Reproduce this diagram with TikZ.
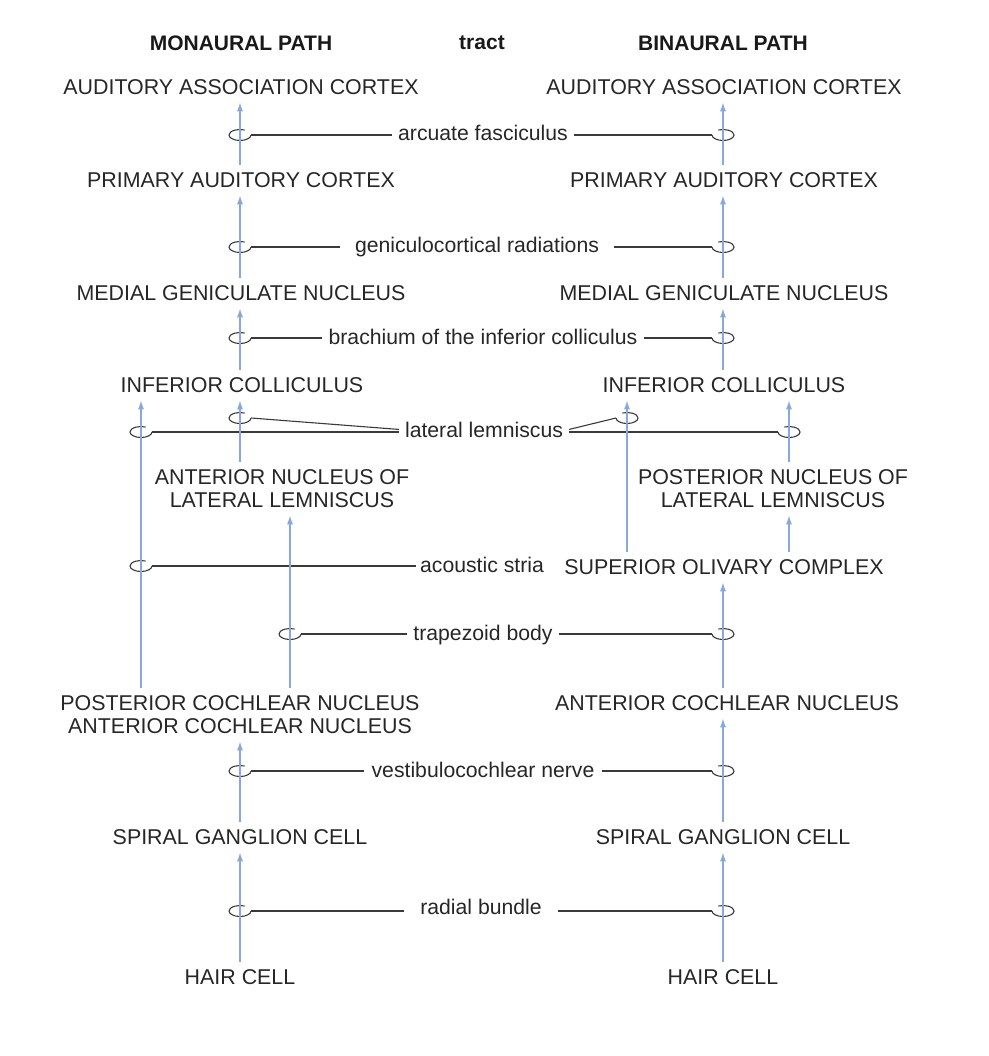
\documentclass[tikz,border=0pt]{standalone}
\usepackage{fontspec}
\setmainfont{Liberation Sans}
\usetikzlibrary{arrows.meta}
\definecolor{bl}{HTML}{86A8DC}
\definecolor{dk}{HTML}{3A3A3A}
\newcommand\arcL[1]{\draw[cn] ([xshift=11pt]#1) arc[start angle=0,end angle=295,x radius=11,y radius=5.5];}
\newcommand\arcR[1]{\draw[cn] ([xshift=-11pt]#1) arc[start angle=180,end angle=-115,x radius=11,y radius=5.5];}
\begin{document}
\begin{tikzpicture}[x=1pt,y=-1pt,
 nd/.style={inner xsep=2pt, inner ysep=7.5pt, font=\fontsize{21.4}{23}\selectfont, align=center, text=black!85},
 hd/.style={font=\bfseries\fontsize{21}{22}\selectfont, inner sep=0pt, text=black!90},
 lb/.style={anchor=base, inner xsep=6pt, inner ysep=0pt, font=\fontsize{21.2}{22}\selectfont, text=black!85},
 arr/.style={draw=bl, line width=1.4pt, -{Latex[length=9pt,width=6pt]}},
 cn/.style={draw=dk, line width=1.1pt},
]
\useasboundingbox (0,0) rectangle (988,1056);
% headers
\node[hd] (hM) at (241,43) {MONAURAL PATH};
\node[hd] (hT) at (482,43) {tract};
\node[hd] (hB) at (723,43) {BINAURAL PATH};
% columns
\coordinate (xL) at (240,0);
\coordinate (xR) at (723,0);
\coordinate (xa) at (141,0);
\coordinate (xb) at (290,0);
\coordinate (xc) at (627,0);
\coordinate (xd) at (789,0);
% left nodes
\node[nd] (aacL) at (241,87) {AUDITORY ASSOCIATION CORTEX};
\node[nd] (pacL) at (241,180) {PRIMARY AUDITORY CORTEX};
\node[nd] (mgL) at (241,293) {MEDIAL GENICULATE NUCLEUS};
\node[nd] (icL) at (242,385) {INFERIOR COLLICULUS};
\node[nd] (anL) at (282,488.5) {ANTERIOR NUCLEUS OF\\LATERAL LEMNISCUS};
\node[nd] (cnL) at (240,714.5) {POSTERIOR COCHLEAR NUCLEUS\\ANTERIOR COCHLEAR NUCLEUS};
\node[nd] (sgL) at (240,837) {SPIRAL GANGLION CELL};
\node[nd] (hcL) at (240,977) {HAIR CELL};
% right nodes
\node[nd] (aacR) at (724,87) {AUDITORY ASSOCIATION CORTEX};
\node[nd] (pacR) at (724,180) {PRIMARY AUDITORY CORTEX};
\node[nd] (mgR) at (724,293) {MEDIAL GENICULATE NUCLEUS};
\node[nd] (icR) at (724,385) {INFERIOR COLLICULUS};
\node[nd] (pnR) at (773,488.5) {POSTERIOR NUCLEUS OF\\LATERAL LEMNISCUS};
\node[nd] (socR) at (724,567) {SUPERIOR OLIVARY COMPLEX};
\node[nd] (acnR) at (727,703) {ANTERIOR COCHLEAR NUCLEUS};
\node[nd] (sgR) at (723,837) {SPIRAL GANGLION CELL};
\node[nd] (hcR) at (723,977) {HAIR CELL};
% labels
\node[lb] (af) at (483,141) {arcuate fasciculus};
\node[lb, inner xsep=15pt] (gr) at (477,253) {geniculocortical radiations};
\node[lb] (br) at (483,344) {brachium of the inferior colliculus};
\node[lb] (ll) at (484,437) {lateral lemniscus};
\node[lb, inner xsep=4pt] (as) at (482,572) {acoustic stria};
\node[lb] (tb) at (483,640) {trapezoid body};
\node[lb, inner xsep=7pt] (vn) at (483,777) {vestibulocochlear nerve};
\node[lb, inner xsep=16pt] (rb) at (481,914) {radial bundle};
% loop points
\coordinate (afL) at (240,135); \coordinate (afR) at (723,135);
\coordinate (grL) at (240,247); \coordinate (grR) at (723,247);
\coordinate (brL) at (240,338); \coordinate (brR) at (723,338);
\coordinate (llA) at (141,432); \coordinate (llB) at (240,418);
\coordinate (llC) at (627,418); \coordinate (llD) at (789,432);
\coordinate (asL) at (141,566);
\coordinate (tbL) at (290,634); \coordinate (tbR) at (723,634);
\coordinate (vnL) at (240,771); \coordinate (vnR) at (723,771);
\coordinate (rbL) at (240,911); \coordinate (rbR) at (723,911);
% connectors with loops
\foreach \lab/\p/\q in {af/afL/afR, gr/grL/grR, br/brL/brR, tb/tbL/tbR, vn/vnL/vnR, rb/rbL/rbR}{
  \arcL{\p} \arcR{\q}
  \draw[cn] ([xshift=11pt]\p) -- (\lab.west |- \p);
  \draw[cn] (\lab.east |- \q) -- ([xshift=-11pt]\q);
}
\arcL{asL}
\draw[cn] ([xshift=11pt]asL) -- (as.west |- asL);
\arcL{llA} \arcL{llB} \arcR{llC} \arcR{llD}
\draw[cn] ([xshift=11pt]llA) -- (ll.west |- llA);
\draw[cn] ([xshift=11pt]llB) -- (ll.west);
\draw[cn] (ll.east) -- ([xshift=-11pt]llC);
\draw[cn] (ll.east |- llD) -- ([xshift=-11pt]llD);
% left arrows
\draw[arr] (hcL.north -| xL) -- (sgL.south -| xL);
\draw[arr] (sgL.north -| xL) -- (cnL.south -| xL);
\draw[arr] (cnL.north -| xa) -- (icL.south -| xa);
\draw[arr] (cnL.north -| xb) -- (anL.south -| xb);
\draw[arr] (anL.north -| xL) -- (icL.south -| xL);
\draw[arr] (icL.north -| xL) -- (mgL.south -| xL);
\draw[arr] (mgL.north -| xL) -- (pacL.south -| xL);
\draw[arr] (pacL.north -| xL) -- (aacL.south -| xL);
% right arrows
\draw[arr] (hcR.north -| xR) -- (sgR.south -| xR);
\draw[arr] (sgR.north -| xR) -- (acnR.south -| xR);
\draw[arr] (acnR.north -| xR) -- (socR.south -| xR);
\draw[arr] (socR.north -| xc) -- (icR.south -| xc);
\draw[arr] (socR.north -| xd) -- (pnR.south -| xd);
\draw[arr] (pnR.north -| xd) -- (icR.south -| xd);
\draw[arr] (icR.north -| xR) -- (mgR.south -| xR);
\draw[arr] (mgR.north -| xR) -- (pacR.south -| xR);
\draw[arr] (pacR.north -| xR) -- (aacR.south -| xR);
\end{tikzpicture}
\end{document}
